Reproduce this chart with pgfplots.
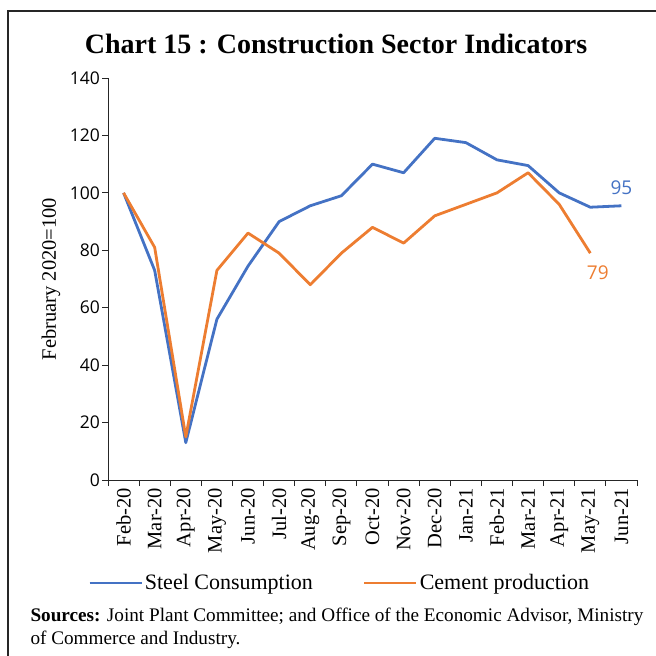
\documentclass[border=0pt]{standalone}
\usepackage{fontspec}
\setmainfont{Liberation Serif}
\newfontfamily\tickfont{Open Sans}
\usepackage{pgfplots}
\pgfplotsset{compat=1.18}
\definecolor{steel}{HTML}{4472C4}
\definecolor{cement}{HTML}{ED7D31}
\begin{document}
\begin{tikzpicture}
\useasboundingbox (0pt,0pt) rectangle (656pt,-656pt);
\draw[line width=1.5pt, black!85] (8pt,-656pt) -- (8pt,-11pt) -- (656pt,-11pt);
\node[anchor=base, font=\fontsize{28}{28}\selectfont\bfseries] at (336pt,-53pt) {Chart 15 : Construction Sector Indicators};
\begin{axis}[
  at={(108pt,-480pt)}, anchor=south west,
  scale only axis, width=529pt, height=402pt,
  xmin=-0.5, xmax=16.5, ymin=0, ymax=140,
  axis x line*=bottom, axis y line*=left,
  axis line style={line width=1pt, black!85},
  every tick/.style={line width=1pt, black!85},
  tick align=outside, major tick length=6pt,
  xtick={-0.5,0.5,...,16.5},
  x tick label as interval,
  xticklabels={Feb-20,Mar-20,Apr-20,May-20,Jun-20,Jul-20,Aug-20,Sep-20,Oct-20,Nov-20,Dec-20,Jan-21,Feb-21,Mar-21,Apr-21,May-21,Jun-21},
  xticklabel style={rotate=90, anchor=east, font=\fontsize{20.5}{20.5}\selectfont, inner sep=2pt},
  ytick={0,20,...,140},
  yticklabel style={font=\tickfont\fontsize{17.5}{17.5}\selectfont, inner sep=2pt},
  /pgf/number format/assume math mode=true,
  ylabel={February 2020=100},
  ylabel style={font=\fontsize{20.5}{20.5}\selectfont, yshift=4pt},
  legend columns=2,
  legend style={at={(-0.038,-0.256)}, anchor=west, draw=none, inner sep=0pt,
    font=\fontsize{22}{22}\selectfont,
    /tikz/every even column/.append style={column sep=48pt}},
  legend cell align=left,
  legend image code/.code={\draw[#1, line width=2.8pt] (0pt,0pt) -- (52pt,0pt);},
]
\addplot[steel, line width=2.8pt, line join=round] coordinates {
(0,100) (1,73) (2,13) (3,56) (4,74.5) (5,90) (6,95.5) (7,99) (8,110) (9,107)
(10,119) (11,117.5) (12,111.5) (13,109.5) (14,100) (15,95) (16,95.5)};
\addlegendentry{Steel Consumption}
\addplot[cement, line width=2.8pt, line join=round] coordinates {
(0,100) (1,81) (2,15) (3,73) (4,86) (5,79) (6,68) (7,79) (8,88) (9,82.5)
(10,92) (11,96) (12,100) (13,107) (14,96) (15,79)};
\addlegendentry{Cement production}
\node[steel, font=\tickfont\fontsize{19}{19}\selectfont] at (axis cs:16,101.7) {95};
\node[cement, font=\tickfont\fontsize{19}{19}\selectfont] at (axis cs:15.24,72.1) {79};
\end{axis}
\node[anchor=base west, font=\fontsize{19.2}{19.2}\selectfont] at (27pt,-621pt) {\textbf{Sources:} Joint Plant Committee; and Office of the Economic Advisor, Ministry};
\node[anchor=base west, font=\fontsize{19.2}{19.2}\selectfont] at (27pt,-644pt) {of Commerce and Industry.};
\end{tikzpicture}
\end{document}
